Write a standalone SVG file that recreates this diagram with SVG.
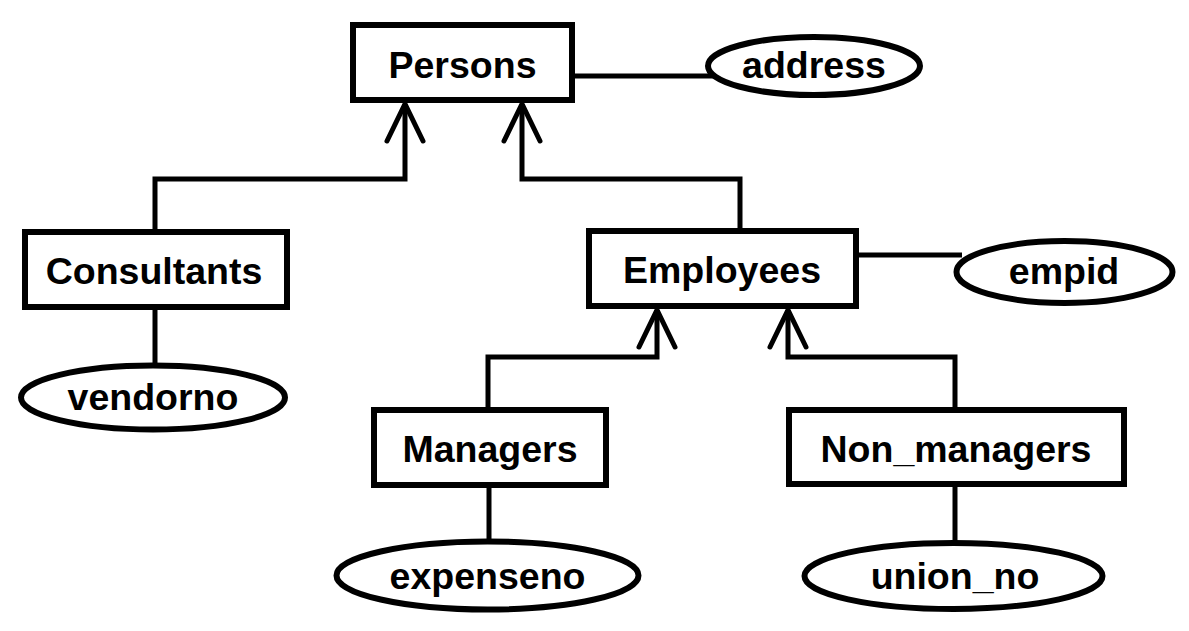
<svg xmlns="http://www.w3.org/2000/svg" width="1189" height="631" viewBox="0 0 1189 631">
<style>
.box{fill:#fff;stroke:#000;stroke-width:6}
.attr{fill:#fff;stroke:#000;stroke-width:6}
.lbl{font-family:"Liberation Sans",Arial,sans-serif;font-weight:bold;font-size:37.5px;fill:#000;text-anchor:middle}
.conn{fill:none;stroke:#000;stroke-width:5}
</style>
<defs>
<marker id="arr" markerUnits="userSpaceOnUse" markerWidth="60" markerHeight="60" viewBox="-45 -30 60 60" refX="0" refY="0" orient="auto" overflow="visible">
<path d="M-37,-18 L0,0 L-37,18" fill="none" stroke="#000" stroke-width="5" stroke-linecap="round" stroke-linejoin="miter"/>
</marker>
</defs>
<rect width="1189" height="631" fill="#fff"/>
<g id="connectors">
<path class="conn" d="M575 76 H721"/>
<path class="conn" d="M155 310 V366"/>
<path class="conn" d="M859 255 H962"/>
<path class="conn" d="M489 488 V542"/>
<path class="conn" d="M955 487 V543"/>
<path class="conn" d="M155 229 V179 H405 V104" marker-end="url(#arr)"/>
<path class="conn" d="M740 228 V179 H522 V104" marker-end="url(#arr)"/>
<path class="conn" d="M488 407 V357 H657 V310" marker-end="url(#arr)"/>
<path class="conn" d="M955 407 V357 H788 V310" marker-end="url(#arr)"/>
</g>
<g id="persons"><rect class="box" x="353" y="25" width="219" height="75"/><text class="lbl" x="462.5" y="77.5">Persons</text></g>
<g id="address"><ellipse class="attr" cx="814" cy="66" rx="106" ry="29"/><text class="lbl" x="814" y="78">address</text></g>
<g id="consultants"><rect class="box" x="25" y="232" width="262" height="75"/><text class="lbl" x="154" y="284">Consultants</text></g>
<g id="vendorno"><ellipse class="attr" cx="153" cy="397.5" rx="132" ry="32"/><text class="lbl" x="153" y="410">vendorno</text></g>
<g id="employees"><rect class="box" x="589" y="231" width="267" height="75"/><text class="lbl" x="722" y="283">Employees</text></g>
<g id="empid"><ellipse class="attr" cx="1064.5" cy="272" rx="108" ry="31"/><text class="lbl" x="1064" y="284">empid</text></g>
<g id="managers"><rect class="box" x="374" y="410" width="232" height="75"/><text class="lbl" x="490" y="462">Managers</text></g>
<g id="expenseno"><ellipse class="attr" cx="487.5" cy="575.5" rx="151" ry="34"/><text class="lbl" x="487.5" y="589">expenseno</text></g>
<g id="non_managers"><rect class="box" x="789" y="410" width="335" height="74"/><text class="lbl" x="956" y="462">Non_managers</text></g>
<g id="union_no"><ellipse class="attr" cx="953.5" cy="576" rx="149" ry="33"/><text class="lbl" x="955" y="589">union_no</text></g>
</svg>
